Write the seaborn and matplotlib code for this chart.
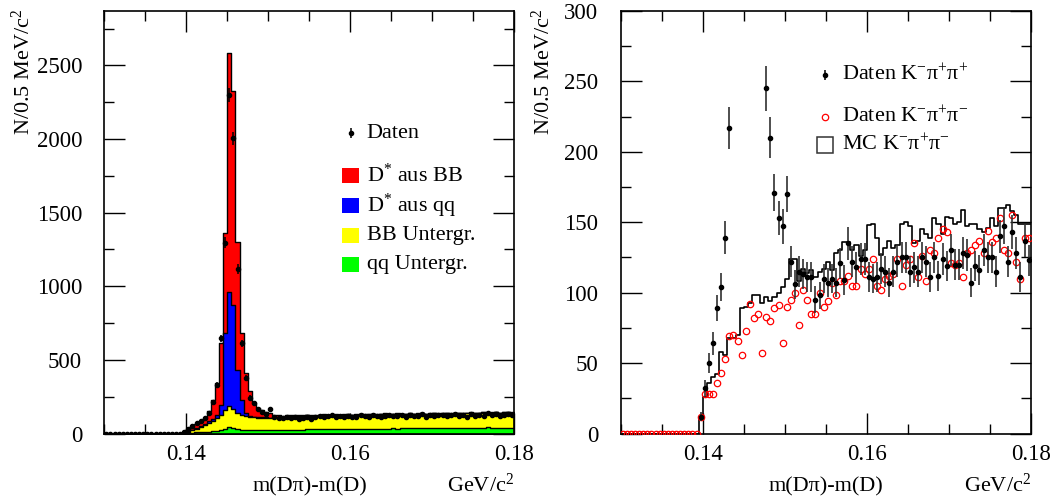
import numpy as np
import matplotlib
matplotlib.use("Agg")
import matplotlib.pyplot as plt
from matplotlib.patches import Rectangle
from matplotlib.ticker import MultipleLocator, FormatStrFormatter
import seaborn as sns

# ---------------------------------------------------------------------------
# Binning: 0.5 MeV/c^2 bins of m(D pi) - m(D) between 0.130 and 0.180 GeV/c^2
# ---------------------------------------------------------------------------
bin_lo, bin_hi, n_bins = 0.130, 0.180, 100
below_threshold = [0] * 19          # bins under the pion-mass threshold

# Left panel: stacked MC components (counts per bin) and data
d_star_bb = below_threshold + [
    7, 19, 24, 29, 35, 42, 70, 128, 215, 419,
    679, 1620, 1454, 872, 457, 272, 169, 96, 59, 50,
    39, 29, 20,
    12, 10, 9, 8, 7, 6, 6, 5, 5, 4,
    4, 4, 3, 3, 3, 3, 3, 3, 2, 2,
    2, 2, 2, 2, 2, 2, 2, 2, 2, 2,
    2, 2, 2, 2, 2, 2, 2, 2, 2, 2,
    2, 2, 2, 2, 2, 2, 2, 2, 2, 2,
    2, 2, 2, 2, 2, 2, 2, 2]
d_star_qq = below_threshold + [
    1, 2, 3, 4, 5, 6, 8, 9, 23, 69,
    521, 773, 705, 293, 102, 19, 7, 5, 4, 3,
    3, 2, 2,
    2, 2, 2, 2, 1, 1, 1, 1, 1, 1,
    1, 1, 1, 1, 1, 1, 1, 1, 1, 1,
    1, 1, 1, 1, 1, 1, 1, 1, 1, 1,
    1, 1, 1, 1, 1, 1, 1, 1, 1, 1,
    1, 1, 1, 1, 1, 1, 1, 1, 1, 1,
    1, 1, 1, 1, 1, 1, 1, 1]
bb_background = below_threshold + [
    3, 8, 16, 26, 37, 50, 62, 74, 86, 103,
    128, 144, 130, 110, 102, 96, 91, 87, 85, 84,
    83, 82, 82,
    86, 84, 90, 88, 93, 92, 92, 93, 91, 91,
    93, 96, 92, 94, 97, 93, 96, 98, 94, 96,
    99, 95, 97, 99, 95, 97, 100, 96, 97, 101,
    96, 98, 101, 97, 99, 101, 97, 100, 102, 98,
    100, 103, 99, 101, 104, 99, 102, 105, 100, 103,
    106, 95, 104, 107, 103, 106, 109, 105]
qq_background = below_threshold + [
    1, 3, 5, 7, 9, 10, 12, 14, 17, 22,
    32, 46, 38, 28, 24, 22, 22, 22, 23, 23,
    23, 24, 24,
    24, 25, 25, 25, 26, 26, 27, 30, 30, 30,
    30, 30, 31, 31, 31, 31, 30, 31, 32, 32,
    32, 32, 32, 33, 33, 33, 33, 33, 34, 33,
    34, 34, 34, 34, 34, 35, 35, 34, 35, 35,
    35, 35, 35, 35, 35, 36, 36, 36, 36, 36,
    36, 42, 36, 36, 36, 36, 36, 36]
data_left = below_threshold + [
    10, 33, 50, 68, 85, 103, 140, 216, 329, 646,
    1296, 2299, 2005, 1115, 613, 375, 243, 205, 166, 148,
    135, 166, 114,
    108, 104, 110, 103, 112, 98, 106, 113, 99, 109,
    116, 111, 119, 123, 112, 118, 109, 121, 115, 111,
    124, 117, 113, 126, 119, 114, 122, 128, 116, 120,
    125, 113, 127, 121, 118, 130, 115, 123, 119, 126,
    129, 117, 124, 131, 120, 127, 115, 133, 122, 128,
    119, 136, 125, 130, 121, 127, 134, 123]

# Right panel: two data samples and the MC prediction
data_kpipi_ss = below_threshold + [
    12, 32, 50, 64, 89, 104, 139, 217,
    380, 540, 690, 760, 700, 560, 430, 330,
    245, 210, 171, 153, 147, 170, 122, 106, 115, 113, 111,
    111, 95, 98, 110, 107, 110, 107, 121, 109, 135,
    122, 118, 124, 124, 111, 110, 111, 117, 115, 107,
    115, 122, 125, 125, 115, 118, 115, 125, 122, 111,
    125, 112, 124, 119, 130, 120, 120, 128, 127, 107,
    119, 116, 130, 125, 125, 115, 140, 147, 122, 143,
    128, 111, 137, 123]
data_kpipi_os = below_threshold + [
    12, 28, 28, 28, 36, 43, 53, 69, 70, 66,
    56, 73, 92, 82, 85, 57, 83, 80, 89, 91,
    64, 90, 95, 100, 77, 102, 95,
    85, 85, 100, 90, 94, 107, 98, 108, 108, 112,
    105, 105, 117, 113, 117, 124, 105, 102, 110, 112,
    113, 124, 105, 120, 124, 135, 111, 126, 108, 130,
    128, 139, 145, 143, 121, 120, 121, 111, 128, 130,
    134, 137, 128, 144, 136, 139, 153, 130, 128, 155,
    122, 110, 139, 139]
mc_kpipi_os = below_threshold + [
    10, 26, 36, 40, 42, 58, 56, 68, 68, 70,
    89, 90, 93, 98, 98, 93, 97, 94, 97, 100,
    104, 110, 124, 124, 108, 117, 114,
    116, 111, 115, 117, 122, 116, 128, 130, 136, 136,
    130, 134, 126, 130, 148, 149, 139, 127, 132, 137,
    132, 134, 149, 150, 147, 135, 137, 145, 142, 139,
    153, 149, 142, 154, 153, 149, 150, 159, 147, 149,
    149, 145, 143, 146, 153, 147, 160, 160, 162, 158,
    155, 149, 149, 149]

x_ticks = [0.14, 0.16, 0.18]
x_label = "m(Dπ)-m(D)"
x_unit = "GeV/c$^{2}$"
y_label = "N/0.5 MeV/c$^{2}$"
left_legend = ["Daten", "D$^{*}$ aus BB", "D$^{*}$ aus qq", "BB Untergr.", "qq Untergr."]
right_legend = ["Daten K$^{-}$π$^{+}$π$^{+}$", "Daten K$^{-}$π$^{+}$π$^{-}$",
                "MC K$^{-}$π$^{+}$π$^{-}$"]

# ---------------------------------------------------------------------------
sns.set_theme(style="ticks", rc={"axes.edgecolor": "black", "xtick.color": "black",
                                 "ytick.color": "black", "text.color": "black"})
plt.rcParams["font.family"] = ["Liberation Serif", "DejaVu Serif"]
plt.rcParams["mathtext.fontset"] = "custom"
plt.rcParams["mathtext.rm"] = "Liberation Serif"
plt.rcParams["mathtext.it"] = "Liberation Serif:italic"
plt.rcParams["mathtext.default"] = "rm"

FS = 16
FS_TICK = 16.5
edges = np.round(np.linspace(bin_lo, bin_hi, n_bins + 1), 6)
centers = (edges[:-1] + edges[1:]) / 2
bin_list = [float(e) for e in edges]

fig = plt.figure(figsize=(10.53, 5.03), dpi=100)
W, H = 1053, 503


def add_axes_px(x0, x1, ytop, ybot):
    return fig.add_axes([x0 / W, (H - ybot) / H, (x1 - x0) / W, (ybot - ytop) / H])


ax1 = add_axes_px(104.3, 514.3, 11, 433.5)
ax2 = add_axes_px(620.7, 1030.7, 11, 433.5)

# --- left: stacked MC composition drawn back to front ---------------------
g = np.array(qq_background, float)
yb = g + np.array(bb_background, float)
bq = yb + np.array(d_star_qq, float)
rb = bq + np.array(d_star_bb, float)
for top, col in [(rb, "#ff0000"), (bq, "#0000ff"), (yb, "#ffff00"), (g, "#00ff00")]:
    sns.histplot(x=centers, weights=top, bins=bin_list, element="step", fill=True,
                 color=col, alpha=1, edgecolor="black", linewidth=1.0, ax=ax1)

dl = np.array(data_left, float)
ax1.errorbar(centers, dl, yerr=np.sqrt(dl), fmt="o", ms=3.0, color="black",
             ecolor="black", elinewidth=1.1, capsize=0, zorder=5)

# --- right: MC histogram and two data samples ------------------------------
sns.histplot(x=centers, weights=np.array(mc_kpipi_os, float), bins=bin_list,
             element="step", fill=False, color="black", linewidth=1.2, ax=ax2)
os_ = np.array(data_kpipi_os, float)
ax2.plot(centers, os_, "o", ms=4.6, mfc="none", mec="#ff0000", mew=0.9,
         linestyle="none", zorder=4)
ss = np.array(data_kpipi_ss, float)
sel = ss > 0
ax2.errorbar(centers[sel], ss[sel], yerr=np.sqrt(ss[sel]), fmt="o", ms=3.0,
             color="black", ecolor="#303030", elinewidth=1.2, capsize=0, zorder=5)

# --- axes cosmetics ---------------------------------------------------------
for ax, ymax, ymaj, ymin in [(ax1, 2870, 500, 250), (ax2, 300, 50, 25)]:
    ax.set_xlim(bin_lo, bin_hi)
    ax.set_ylim(0, ymax)
    ax.set_xticks(x_ticks)
    ax.xaxis.set_major_formatter(FormatStrFormatter("%.2f"))
    ax.xaxis.set_minor_locator(MultipleLocator(0.005))
    ax.yaxis.set_major_locator(MultipleLocator(ymaj))
    ax.yaxis.set_minor_locator(MultipleLocator(ymin))
    ax.set_xlabel("")
    ax.set_ylabel("")
    ax.tick_params(which="both", direction="in", top=True, right=True,
                   width=1.0, labelsize=FS_TICK, colors="black")
    ax.tick_params(which="major", length=15)
    ax.tick_params(which="minor", length=7.5)
    ax.tick_params(axis="y", pad=16)
    ax.tick_params(axis="x", pad=7.5)
    for s in ax.spines.values():
        s.set_linewidth(1.2)
        s.set_color("black")
    ax.set_facecolor("white")

# axis titles
for ax, xc, yl_x in [(ax1, 310, 23), (ax2, 826, 543)]:
    fig.text(xc / W, (H - 487) / H, x_label, ha="center", va="center", fontsize=FS)
    right_px = ax.get_position().x1 * W
    fig.text(right_px / W, (H - 485) / H, x_unit, ha="right", va="center", fontsize=FS)
    fig.text(yl_x / W, (H - 9) / H, y_label, rotation=90, ha="center", va="top",
             fontsize=FS)

# --- legends ----------------------------------------------------------------
def to_ax(ax, px, py):
    pos = ax.get_position()
    return ((px / W - pos.x0) / pos.width, ((H - py) / H - pos.y0) / pos.height)


ux, uy = to_ax(ax1, 350.7, 133)
ax1.errorbar([ux], [uy], yerr=[0.012], fmt="o", ms=3.0, color="black",
             elinewidth=1.1, transform=ax1.transAxes, clip_on=False)
tx, _ = to_ax(ax1, 366.7, 0)
ax1.text(tx, uy, left_legend[0], transform=ax1.transAxes, fontsize=FS, va="center")
for label, col, cy in zip(left_legend[1:], ["#ff0000", "#0000ff", "#ffff00", "#00ff00"],
                          [175.2, 205.5, 235.5, 264.3]):
    bx, by = to_ax(ax1, 341.7, cy + 7.5)
    bx2, by2 = to_ax(ax1, 359.0, cy - 7.5)
    ax1.add_patch(Rectangle((bx, by), bx2 - bx, by2 - by, transform=ax1.transAxes,
                            facecolor=col, edgecolor="none"))
    _, ty = to_ax(ax1, 0, cy)
    ax1.text(tx, ty, label, transform=ax1.transAxes, fontsize=FS, va="center")

mx, my = to_ax(ax2, 825, 75)
ax2.errorbar([mx], [my], yerr=[0.012], fmt="o", ms=3.0, color="black",
             elinewidth=1.1, transform=ax2.transAxes, clip_on=False)
_, my2 = to_ax(ax2, 825, 116.7)
ax2.plot([mx], [my2], "o", ms=4.6, mfc="none", mec="#ff0000", mew=0.9,
         transform=ax2.transAxes)
sx, sy = to_ax(ax2, 817, 153)
sx2, sy2 = to_ax(ax2, 833, 137)
ax2.add_patch(Rectangle((sx, sy), sx2 - sx, sy2 - sy, transform=ax2.transAxes,
                        facecolor="white", edgecolor="#333333", linewidth=1.1))
tx2, _ = to_ax(ax2, 842.3, 0)
for label, cy in zip(right_legend, [75, 116.7, 145]):
    _, ty = to_ax(ax2, 0, cy)
    ax2.text(tx2, ty, label, transform=ax2.transAxes, fontsize=FS, va="center")

fig.savefig("out.png", dpi=100, facecolor="white")
